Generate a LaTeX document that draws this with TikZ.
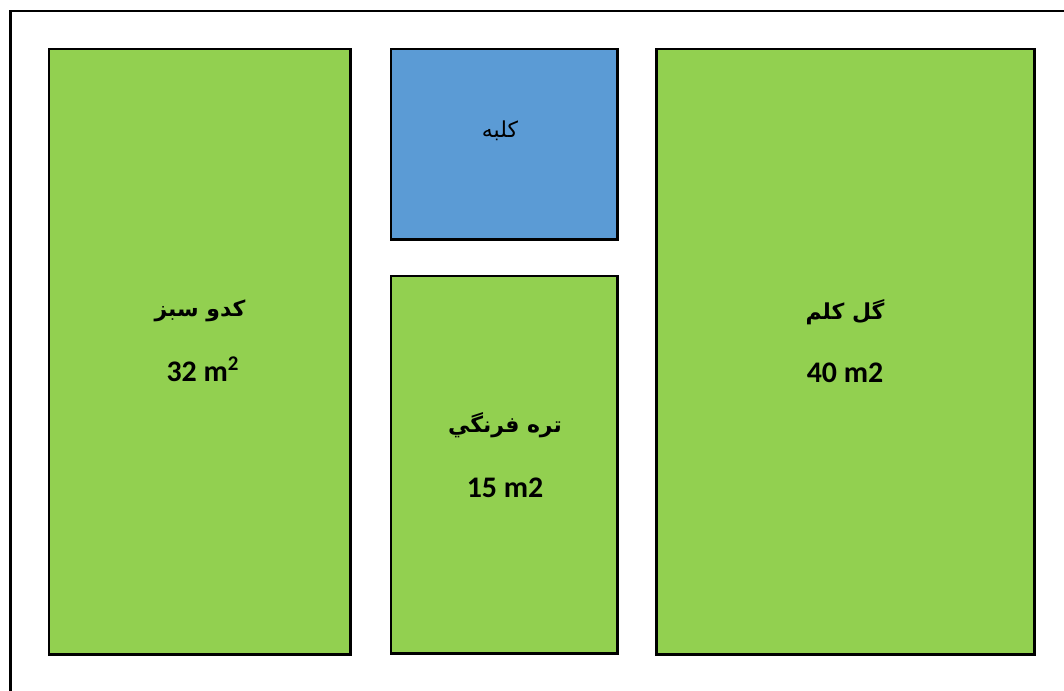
\documentclass[tikz,border=0pt]{standalone}
\usepackage{fontspec}
\setmainfont{Carlito}
\newfontfamily\arabicfont[Script=Arabic]{DejaVu Sans}
\TeXXeTstate=1
\definecolor{bedgreen}{HTML}{92D050}
\definecolor{hutblue}{HTML}{5B9BD5}

\begin{document}
\begin{tikzpicture}[x=0.02cm,y=-0.02cm,
    bed/.style={draw=black,line width=1.7pt,fill=bedgreen,anchor=north west,inner sep=0pt,outer sep=0pt},
    hut/.style={bed,fill=hutblue},
    fa/.style={font=\arabicfont\bfseries\fontsize{12.5}{15}\selectfont,inner sep=0pt},
    area/.style={font=\bfseries\fontsize{17}{20}\selectfont,inner sep=0pt}]
        \useasboundingbox (0,0) rectangle (1064,690);
        \clip (0,0) rectangle (1064,690);
        \draw[line width=1.6pt] (10.5,720) -- (10.5,11) -- (1090,11);

        \node[bed,minimum width=6.04cm,minimum height=12.12cm] (kadu) at (49,49) {};
        \node[hut,minimum width=4.54cm,minimum height=3.82cm] (kolbe) at (391,49) {};
        \node[bed,minimum width=4.54cm,minimum height=7.56cm] (tare) at (391,276) {};
        \node[bed,minimum width=7.58cm,minimum height=12.12cm] (kalam) at (656,49) {};

        \node[fa] (kadu-name) at (200,311) {\beginR کدو سبز\endR};
        \node[area] (kadu-area) at (203,369) {32 m\textsuperscript{2}};
        \node[fa,font=\arabicfont\fontsize{12.5}{15}\selectfont] (kolbe-name) at (500,131) {\beginR کلبه\endR};
        \node[fa] (tare-name) at (505,425) {\beginR تره فرنگي\endR};
        \node[area] (tare-area) at (505,488) {15 m2};
        \node[fa] (kalam-name) at (845,312) {\beginR گل کلم\endR};
        \node[area] (kalam-area) at (845,373) {40 m2};
    \end{tikzpicture}
\end{document}
